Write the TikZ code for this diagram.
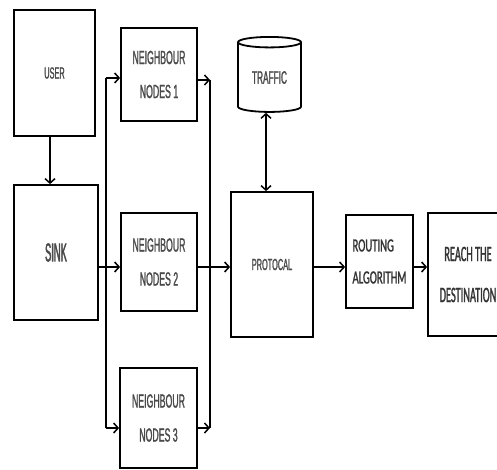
\documentclass[tikz,border=0pt]{standalone}
\usepackage{fontspec}
\usetikzlibrary{arrows.meta,shapes.geometric}
\newfontfamily\fsans[FakeStretch=0.46,FakeBold=1.2]{Liberation Sans}
\newfontfamily\fsink[FakeStretch=0.36,FakeBold=1.5]{Liberation Sans}
\newfontfamily\froute[FakeStretch=0.58,FakeBold=1.2]{Carlito}
\newfontfamily\freach[FakeStretch=0.47,FakeBold=1.2]{Carlito}
\definecolor{txt}{HTML}{4a4a4a}
\begin{document}
\begin{tikzpicture}[x=1pt,y=-1pt,
  box/.style={draw=black,line width=1.8pt,rectangle,inner sep=0pt,text=txt,align=center},
  arr/.style={line width=1.5pt,-{Straight Barb[length=4.5pt,width=10pt]}},
  darr/.style={line width=1.5pt,{Straight Barb[length=4.5pt,width=10pt]}-{Straight Barb[length=4.5pt,width=10pt]}},
  ln/.style={line width=1.5pt},
  nfont/.style={font={\fsans\fontsize{19}{34}\selectfont}}]
\useasboundingbox (0,0) rectangle (497,470);
\fill[white] (0,0) rectangle (497,470);
% boxes
\node[box,minimum width=81pt,minimum height=126pt,font={\fsans\fontsize{16}{20}\selectfont}] (user) at (54.5,73) {USER};
\node[box,minimum width=84pt,minimum height=135pt,font={\fsink\fontsize{26}{30}\selectfont}] (sink) at (56,252.5) {SINK};
\node[box,nfont,minimum width=76pt,minimum height=93pt] (n1) at (159,74.5) {NEIGHBOUR\\NODES 1};
\node[box,nfont,minimum width=76pt,minimum height=98pt] (n2) at (159,262) {NEIGHBOUR\\NODES 2};
\node[box,nfont,minimum width=77pt,minimum height=100pt] (n3) at (158.5,418) {NEIGHBOUR\\NODES 3};
\node[box,minimum width=82pt,minimum height=145pt,font={\fsans\fontsize{16}{20}\selectfont}] (prot) at (272,264.5) {PROTOCAL};
\node[draw=black,line width=1.8pt,cylinder,shape border rotate=90,aspect=0.3,inner sep=0pt,
      minimum width=63pt,minimum height=75pt,text=txt,font={\fsans\fontsize{18}{20}\selectfont}] (traffic) at (269.5,77.5) {TRAFFIC};
\node[box,minimum width=67pt,minimum height=93pt,align=left,text=black!80,font={\froute\fontsize{18.5}{32}\selectfont}] (route) at (379.5,261.5) {ROUTING\\ALGORITHM};
\node[box,minimum width=80pt,minimum height=123pt,text=black!80,font={\freach\fontsize{22}{41}\selectfont}] (reach) at (468,274.5) {REACH THE\\DESTINATION};
% bus coordinates
\coordinate (l1) at (106,78);
\coordinate (l3) at (106,428);
\coordinate (r1) at (210,80);
\coordinate (r3) at (210,428);
\coordinate (mid) at (0,267);
% connectors
\draw[arr] (user.south -| 50,0) -- (sink.north -| 50,0);
\draw[arr] (sink.east |- mid) -- (n2.west |- mid);
\draw[ln] (l1) -- (l3);
\draw[arr] (l1) -- (n1.west |- l1);
\draw[arr] (l3) -- (n3.west |- l3);
\draw[arr] (n1.east |- r1) -- (r1);
\draw[arr] (n3.east |- r3) -- (r3);
\draw[ln] (r1) -- (r3);
\draw[arr] (n2.east |- mid) -- (prot.west |- mid);
\draw[darr] (traffic.south -| 266,0) -- (prot.north -| 266,0);
\draw[arr] (prot.east |- mid) -- (route.west |- mid);
\draw[arr] (route.east |- mid) -- (reach.west |- mid);
\end{tikzpicture}
\end{document}
